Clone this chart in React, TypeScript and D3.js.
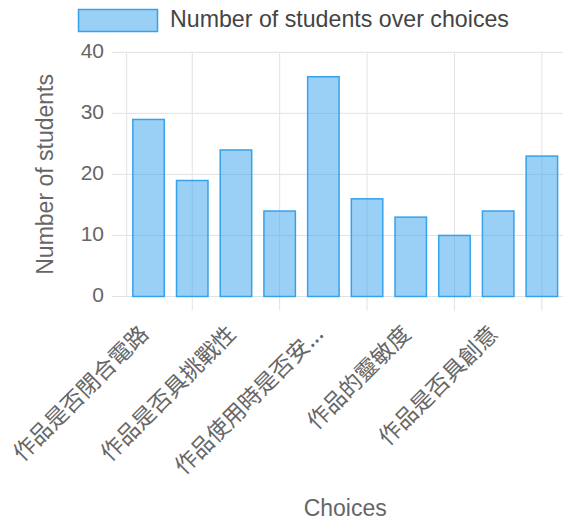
import React from "react";
import * as d3 from "d3";

const categories: string[] = [
  "作品是否閉合電路",
  "作品是否美觀",
  "作品是否具挑戰性",
  "作品是否實用",
  "作品使用時是否安...",
  "作品的耐用度",
  "作品的靈敏度",
  "作品是否環保",
  "作品是否具創意",
  "作品是否易於操作",
];
const values: number[] = [29, 19, 24, 14, 36, 16, 13, 10, 14, 23];
const yTicks: number[] = [0, 10, 20, 30, 40];
const seriesLabel = "Number of students over choices";
const xTitle = "Choices";
const yTitle = "Number of students";

const W = 563;
const H = 522;
const left = 126.7;
const right = 563.7;
const top = 52.3;
const bottom = 296.5;

const fill = "rgba(54,162,235,0.5)";
const stroke = "rgb(54,162,235)";
const grid = "#e2e2e2";
const latin = "'Liberation Sans', Arial, Helvetica, sans-serif";
const cjk = "'Noto Sans CJK TC', 'Noto Sans CJK SC', sans-serif";

export default function App() {
  const x = d3.scaleBand<string>().domain(categories).range([left, right]).paddingInner(0).paddingOuter(0);
  const y = d3.scaleLinear().domain([0, 40]).range([bottom, top]);
  const bw = x.bandwidth();
  const barW = bw * 0.72;
  const center = (c: string) => (x(c) as number) + bw / 2;

  return (
    <svg
      width={W}
      height={H}
      style={{ position: "fixed", left: 0, top: 0, background: "#fff" }}
    >
      {/* legend */}
      <rect x={78.5} y={9.5} width={79} height={22} fill={fill} stroke={stroke} strokeWidth={1.5} />
      <text x={170} y={21} dominantBaseline="middle" fontFamily={latin} fontSize={23.2} fill="#444">
        {seriesLabel}
      </text>

      {/* horizontal grid */}
      {yTicks.map((t) => (
        <g key={"y" + t}>
          <line x1={left - 15} x2={W} y1={y(t)} y2={y(t)} stroke={grid} strokeWidth={1} />
          <text
            x={104}
            y={y(t)}
            textAnchor="end"
            dominantBaseline="middle"
            fontFamily={latin}
            fontSize={21}
            fill="#666"
          >
            {t}
          </text>
        </g>
      ))}

      {/* y axis line */}
      <line x1={left} x2={left} y1={top} y2={bottom} stroke={grid} strokeWidth={1} />

      {/* vertical grid at odd categories */}
      {categories.map((c, i) =>
        i % 2 === 1 ? (
          <line key={"g" + i} x1={center(c)} x2={center(c)} y1={top} y2={bottom + 14} stroke={grid} strokeWidth={1} />
        ) : null
      )}

      {/* bars */}
      {categories.map((c, i) => (
        <rect
          key={"b" + i}
          x={center(c) - barW / 2}
          y={y(values[i])}
          width={barW}
          height={bottom - y(values[i])}
          fill={fill}
          stroke={stroke}
          strokeWidth={1.5}
        />
      ))}

      {/* x tick labels */}
      {categories.map((c, i) =>
        i % 2 === 0 ? (
          <text
            key={"l" + i}
            transform={`translate(${center(c) - 3},${331}) rotate(-45)`}
            textAnchor="end"
            dominantBaseline="middle"
            fontFamily={cjk}
            fontSize={22.5}
            fill="#666"
          >
            {c}
          </text>
        ) : null
      )}

      {/* axis titles */}
      <text
        transform={`translate(47,${(top + bottom) / 2}) rotate(-90)`}
        textAnchor="middle"
        dominantBaseline="middle"
        fontFamily={latin}
        fontSize={23}
        fill="#666"
      >
        {yTitle}
      </text>
      <text
        x={(left + right) / 2}
        y={510}
        textAnchor="middle"
        dominantBaseline="middle"
        fontFamily={latin}
        fontSize={23}
        fill="#666"
      >
        {xTitle}
      </text>
    </svg>
  );
}
